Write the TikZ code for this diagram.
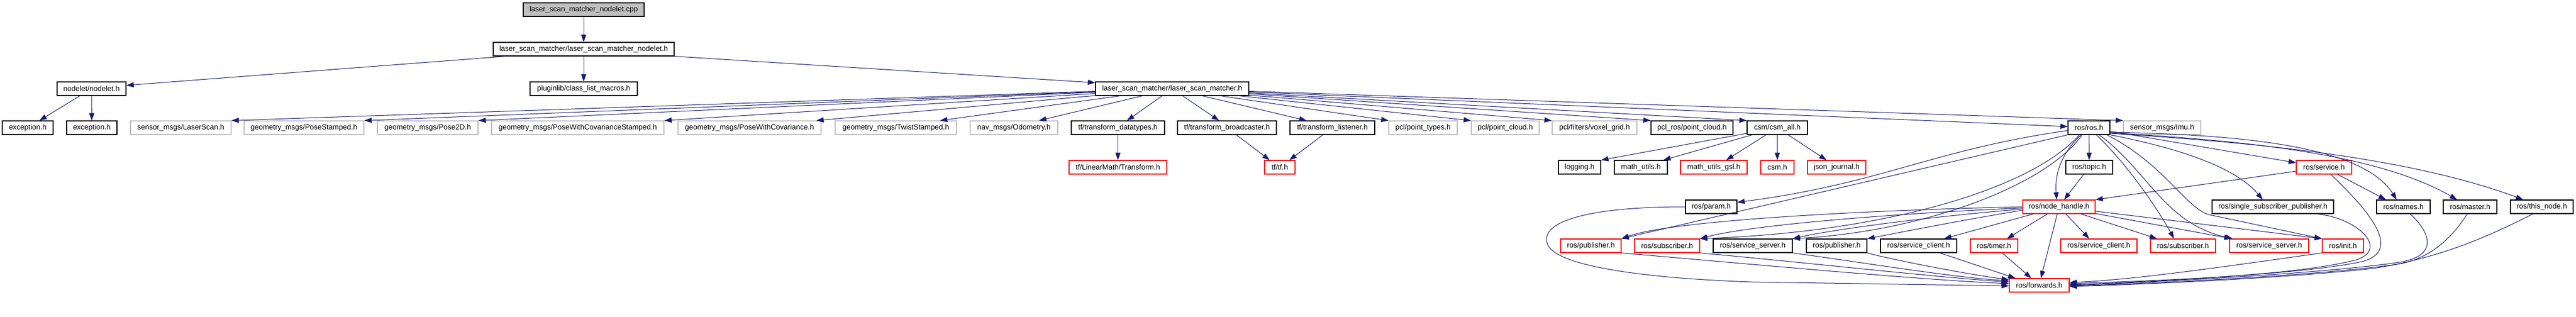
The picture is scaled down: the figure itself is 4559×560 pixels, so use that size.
\documentclass[tikz,border=0pt]{standalone}
\usepackage{fontspec}
\setmainfont{Liberation Sans}
\usetikzlibrary{arrows.meta}
\definecolor{edgeblue}{HTML}{191970}
\definecolor{greyb}{HTML}{BFBFBF}
\begin{document}
\begin{tikzpicture}[x=1pt,y=1pt,
  bx/.style={draw=black, line width=1.3pt, minimum height=24pt, inner sep=0pt, fill=white,
             font=\fontsize{13pt}{15pt}\selectfont},
  bxg/.style={bx, draw=greyb},
  bxr/.style={bx, draw=red},
  edge/.style={draw=edgeblue, line width=1pt, -{Triangle[length=13pt,width=9pt]}}]
\useasboundingbox (0,0) rectangle (4559,-560);
% row 0
\node[bx, fill=greyb, minimum width=214pt] (cpp) at (1033,-17) {laser\_scan\_matcher\_nodelet.cpp};
% row 1
\node[bx, minimum width=320pt] (lsmn) at (1033,-87) {laser\_scan\_matcher/laser\_scan\_matcher\_nodelet.h};
% row 2
\node[bx, minimum width=122pt] (nodelet) at (162,-157) {nodelet/nodelet.h};
\node[bx, minimum width=190pt] (plugin) at (1033,-157) {pluginlib/class\_list\_macros.h};
\node[bx, minimum width=271pt] (lsm) at (2074.5,-157) {laser\_scan\_matcher/laser\_scan\_matcher.h};
% row 3
\node[bx, minimum width=90pt] (exc1) at (49,-226) {exception.h};
\node[bx, minimum width=89pt] (exc2) at (162.5,-226) {exception.h};
\node[bxg, minimum width=178pt] (laserscan) at (320,-226) {sensor\_msgs/LaserScan.h};
\node[bxg, minimum width=212pt] (posestamped) at (538,-226) {geometry\_msgs/PoseStamped.h};
\node[bxg, minimum width=178pt] (pose2d) at (757,-226) {geometry\_msgs/Pose2D.h};
\node[bxg, minimum width=305pt] (pwcs) at (1022.5,-226) {geometry\_msgs/PoseWithCovarianceStamped.h};
\node[bxg, minimum width=253pt] (pwc) at (1326.5,-226) {geometry\_msgs/PoseWithCovariance.h};
\node[bxg, minimum width=215pt] (twist) at (1585.5,-226) {geometry\_msgs/TwistStamped.h};
\node[bxg, minimum width=155pt] (odom) at (1794.5,-226) {nav\_msgs/Odometry.h};
\node[bx, minimum width=165pt] (tfdt) at (1978.5,-226) {tf/transform\_datatypes.h};
\node[bx, minimum width=175pt] (tfbc) at (2171.5,-226) {tf/transform\_broadcaster.h};
\node[bx, minimum width=150pt] (tfl) at (2358,-226) {tf/transform\_listener.h};
\node[bxg, minimum width=121pt] (pcltypes) at (2518.5,-226) {pcl/point\_types.h};
\node[bxg, minimum width=120pt] (pclcloud) at (2664,-226) {pcl/point\_cloud.h};
\node[bxg, minimum width=150pt] (voxel) at (2822,-226) {pcl/filters/voxel\_grid.h};
\node[bx, minimum width=145pt] (pclros) at (2994.5,-226) {pcl\_ros/point\_cloud.h};
\node[bx, minimum width=107pt] (csmall) at (3145.5,-226) {csm/csm\_all.h};
\node[bx, minimum width=74pt] (ros) at (3697,-226) {ros/ros.h};
\node[bxg, minimum width=137pt] (imu) at (3826.5,-226) {sensor\_msgs/Imu.h};
% row 4
\node[bxr, minimum width=173pt] (ltransform) at (1978.5,-296) {tf/LinearMath/Transform.h};
\node[bxr, minimum width=54pt] (tfh) at (2265,-296) {tf/tf.h};
\node[bx, minimum width=75pt] (logging) at (2795.5,-296) {logging.h};
\node[bx, minimum width=94pt] (mathutils) at (2904,-296) {math\_utils.h};
\node[bxr, minimum width=118pt] (mugsl) at (3033,-296) {math\_utils\_gsl.h};
\node[bxr, minimum width=59pt] (csmh) at (3145.5,-296) {csm.h};
\node[bxr, minimum width=103pt] (json) at (3250.5,-296) {json\_journal.h};
\node[bx, minimum width=83pt] (topic) at (3697.5,-296) {ros/topic.h};
\node[bxr, minimum width=98pt] (service) at (4113,-296) {ros/service.h};
% row 5
\node[bx, minimum width=91pt] (param) at (3028.5,-366) {ros/param.h};
\node[bxr, minimum width=128pt] (nh) at (3644,-366) {ros/node\_handle.h};
\node[bx, minimum width=215pt] (ssp) at (4022.5,-366) {ros/single\_subscriber\_publisher.h};
\node[bx, minimum width=95pt] (names) at (4253.5,-366) {ros/names.h};
\node[bx, minimum width=95pt] (master) at (4371.5,-366) {ros/master.h};
\node[bx, minimum width=111pt] (thisnode) at (4498.5,-366) {ros/this\_node.h};
% row 6
\node[bxr, minimum width=107pt] (pubr) at (2815.5,-435) {ros/publisher.h};
\node[bxr, minimum width=115pt] (subr) at (2950.5,-435) {ros/subscriber.h};
\node[bx, minimum width=140pt] (ssb) at (3102,-435) {ros/service\_server.h};
\node[bx, minimum width=107pt] (pubb) at (3250.5,-435) {ros/publisher.h};
\node[bx, minimum width=135pt] (scb) at (3395.5,-435) {ros/service\_client.h};
\node[bxr, minimum width=84pt] (timer) at (3529,-435) {ros/timer.h};
\node[bxr, minimum width=135pt] (scr) at (3714.5,-435) {ros/service\_client.h};
\node[bxr, minimum width=115pt] (subr2) at (3863.5,-435) {ros/subscriber.h};
\node[bxr, minimum width=140pt] (ssr) at (4016,-435) {ros/service\_server.h};
\node[bxr, minimum width=73pt] (init) at (4146.5,-435) {ros/init.h};
% row 7
\node[bxr, minimum width=106pt] (forwards) at (3609,-505) {ros/forwards.h};

% ---- edges: top part
\draw[edge] (cpp) -- (lsmn);
\draw[edge] ([xshift=22pt]lsmn.south west) -- ([yshift=6pt]nodelet.east);
\draw[edge] (lsmn) -- (plugin);
\draw[edge] (lsmn.south east) -- ([yshift=-2pt]lsm.north west);
\draw[edge] (nodelet) -- (exc1);
\draw[edge] (nodelet) -- (exc2);
\foreach \t in {laserscan,posestamped,pose2d,pwcs} \draw[edge] (lsm) -- (\t.north east);
\draw[edge] (lsm) -- ([xshift=-9pt]pwc.north east);
\draw[edge] (lsm) -- ([xshift=-30pt]twist.north east);
\draw[edge] (lsm) -- ([xshift=-34pt]odom.north east);
\draw[edge] (lsm) -- ([xshift=16pt]tfdt.north);
\draw[edge] (lsm) -- ([xshift=-14pt]tfbc.north);
\draw[edge] (lsm) -- ([xshift=30pt]tfl.north west);
\foreach \t in {pcltypes,pclcloud,voxel,pclros,csmall,imu} \draw[edge] (lsm) -- (\t.north west);
\draw[edge] (lsm) -- ([yshift=2pt]ros.west);
\draw[edge] (tfdt) -- (ltransform);
\draw[edge] (tfbc) -- ([xshift=-18pt]tfh.north);
\draw[edge] (tfl) -- ([xshift=17pt]tfh.north);
\draw[edge] (csmall) -- (logging.north east);
\draw[edge] (csmall) -- ([xshift=-8pt]mathutils.north east);
\draw[edge] (csmall) -- ([xshift=22pt]mugsl.north);
\draw[edge] (csmall) -- (csmh);
\draw[edge] (csmall) -- ([xshift=-18pt]json.north);

% ---- ros cluster
\draw[edge] (ros) -- (topic);
\draw[edge] (topic) -- ([xshift=9pt]nh.north);
\draw[edge] ([xshift=-14pt]ros.south) .. controls (3650,-270) and (3636,-305) .. ([xshift=-4pt]nh.north);
\draw[edge] (service) -- (nh.north east);
\draw[edge] (ros) -- ([yshift=8pt]service.west);
\draw[edge] (service) -- ([xshift=-31pt]names.north);
\draw[edge] ([yshift=-8pt]ros.east) .. controls (3950,-238) and (4180,-255) .. ([xshift=-12pt]names.north);
\draw[edge] ([yshift=-9pt]ros.east) .. controls (3950,-248) and (4200,-268) .. ([xshift=-23pt]master.north);
\draw[edge] ([yshift=-10pt]ros.east) .. controls (3950,-250) and (4250,-273) .. ([xshift=-33pt]thisnode.north);
\draw[edge] (ros.south east) .. controls (3870,-265) and (3960,-300) .. ([xshift=-18pt]ssp.north);
\draw[edge] ([xshift=-6pt]ros.south east) .. controls (3830,-290) and (3870,-370) .. (3910,-380) -- (init.north west);
\draw[edge] ([xshift=18pt]ros.south) .. controls (3800,-300) and (3830,-395) .. ([xshift=6pt]ssr.north west);
\draw[edge] ([xshift=13pt]ros.south) .. controls (3775,-300) and (3830,-390) .. ([xshift=-16pt]subr2.north);
\draw[edge] ([yshift=-5pt]ros.west) .. controls (3420,-265) and (3330,-325) .. ([yshift=8pt]param.east);
\draw[edge] (ros.south west) -- (pubr.north east);
\draw[edge] ([xshift=-17pt]ros.south) .. controls (3600,-330) and (3350,-410) .. (subr.north east);
\draw[edge] ([xshift=-12pt]ros.south) .. controls (3620,-330) and (3400,-410) .. (ssb.north east);
% node_handle
\draw[edge] (nh.west) .. controls (3300,-372) and (2960,-390) .. (pubr.north east);
\draw[edge] ([yshift=-2pt]nh.west) .. controls (3350,-378) and (3100,-398) .. (subr.north east);
\draw[edge] ([yshift=-4pt]nh.west) .. controls (3420,-383) and (3250,-405) .. (ssb.north east);
\draw[edge] ([yshift=-6pt]nh.west) .. controls (3470,-390) and (3370,-410) .. (pubb.north east);
\draw[edge] (nh) -- ([xshift=-23pt]scb.north east);
\draw[edge] (nh) -- ([xshift=23pt]timer.north);
\draw[edge] (nh) -- ([xshift=-17pt]scr.north);
\draw[edge] (nh) -- ([xshift=12pt]subr2.north west);
\draw[edge] (nh) -- ([xshift=4pt]ssr.north west);
\draw[edge] (nh) -- (init.north west);
\draw[edge] (nh) -- ([xshift=3pt]forwards.north);
% into forwards
\draw[edge] (pubr.south east) .. controls (3150,-472) and (3400,-495) .. ([yshift=3pt]forwards.west);
\draw[edge] (subr.south east) .. controls (3200,-465) and (3420,-490) .. ([yshift=6pt]forwards.west);
\draw[edge] (ssb.south east) .. controls (3300,-465) and (3450,-490) .. ([yshift=8pt]forwards.west);
\draw[edge] (pubb.south east) .. controls (3350,-460) and (3480,-485) .. ([yshift=10pt]forwards.west);
\draw[edge] (param.west) .. controls (2800,-366) and (2720,-395) .. (2740,-435) .. controls (2760,-470) and (2900,-492) .. (3100,-499) -- ([yshift=-1pt]forwards.west);
\draw[edge] (scb) -- ([xshift=-42pt]forwards.north);
\draw[edge] (timer) -- ([xshift=-14pt]forwards.north);
\draw[edge] (init.south west) .. controls (3950,-470) and (3780,-495) .. ([yshift=5pt]forwards.east);
\draw[edge] ([xshift=-30pt]ssp.south east) .. controls (4170,-385) and (4230,-440) .. (4170,-460) .. controls (4050,-490) and (3800,-497) .. ([yshift=3pt]forwards.east);
\draw[edge] ([xshift=12pt]service.south) .. controls (4200,-380) and (4250,-445) .. (4180,-463) .. controls (4080,-485) and (3800,-499) .. ([yshift=1pt]forwards.east);
\draw[edge] ([xshift=12pt]names.south) .. controls (4300,-410) and (4320,-455) .. (4240,-465) .. controls (4100,-485) and (3800,-500) .. (forwards.east);
\draw[edge] ([xshift=-5pt]master.south) .. controls (4340,-420) and (4300,-460) .. (4240,-468) .. controls (4100,-488) and (3800,-502) .. ([yshift=-1pt]forwards.east);
\draw[edge] ([xshift=-16pt]thisnode.south) .. controls (4420,-410) and (4330,-455) .. (4200,-475) .. controls (4050,-492) and (3800,-503) .. ([yshift=-2pt]forwards.east);
\end{tikzpicture}
\end{document}
